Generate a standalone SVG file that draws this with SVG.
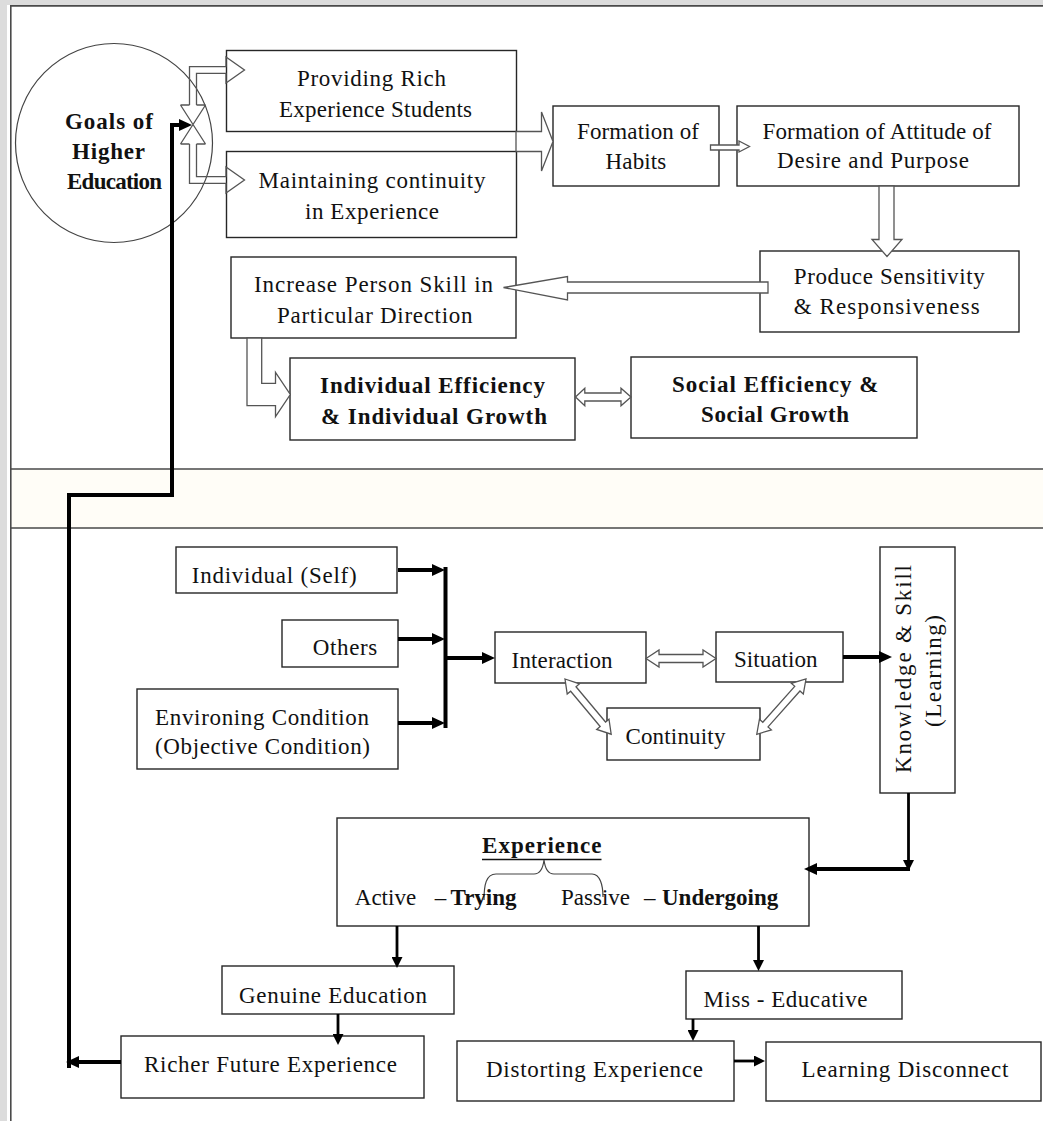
<svg xmlns="http://www.w3.org/2000/svg" width="1043" height="1121" viewBox="0 0 1043 1121">
<defs>
<style>
.box{fill:#fff;stroke:#262626;stroke-width:1.4}
.t{font-family:"Liberation Serif","Times New Roman",serif;font-size:23px;fill:#111}
.b{font-family:"Liberation Serif","Times New Roman",serif;font-size:23px;font-weight:bold;fill:#111}
.hol{fill:#fff;stroke:#555;stroke-width:1.3;stroke-linejoin:miter}
.holn{fill:none;stroke:#555;stroke-width:1.3}
.thk{fill:none;stroke:#000;stroke-width:4}
.thn{fill:none;stroke:#000;stroke-width:2.8}
.frame{fill:none;stroke:#4a4a4a}
</style>
<marker id="ah" markerUnits="userSpaceOnUse" markerWidth="13" markerHeight="12" viewBox="0 0 13 12" refX="1" refY="6" orient="auto"><path d="M0,0 L13,6 L0,12 Z" fill="#000"/></marker>
<marker id="as" markerUnits="userSpaceOnUse" markerWidth="11" markerHeight="11" viewBox="0 0 11 11" refX="1" refY="5.5" orient="auto"><path d="M0,0 L11,5.5 L0,11 Z" fill="#000"/></marker>
</defs>

<g id="background">
<rect x="0" y="0" width="1043" height="1121" fill="#fff"/>
<rect x="0" y="0" width="1043" height="5" fill="#dcdcdc"/>
<rect x="0" y="0" width="7" height="1121" fill="#dcdcdc"/>
<rect x="11" y="469" width="1032" height="59" fill="#fffdf7"/>
<path class="frame" d="M10,5.8 H1043" stroke-width="1.8"/>
<path class="frame" d="M10.8,5 V1121" stroke-width="1.6"/>
<path class="frame" d="M11,469 H1043 M11,528 H1043" stroke="#333" stroke-width="1.4"/>
</g>

<g id="n-goals">
<ellipse cx="114" cy="143" rx="98.5" ry="99.5" fill="none" stroke="#444" stroke-width="1.2"/>
<text class="b" x="65" y="129" textLength="88">Goals of</text>
<text class="b" x="72" y="159" textLength="73">Higher</text>
<text class="b" x="67" y="189" textLength="95">Education</text>
</g>
<g id="n-providing">
<rect class="box" x="226.5" y="50.5" width="290" height="81"/>
<text class="t" x="297" y="86" textLength="149">Providing Rich</text>
<text class="t" x="279" y="117" textLength="193">Experience Students</text>
</g>
<g id="n-maintaining">
<rect class="box" x="226.5" y="151.5" width="290" height="86"/>
<text class="t" x="258.5" y="188" textLength="227">Maintaining continuity</text>
<text class="t" x="305" y="219" textLength="134">in Experience</text>
</g>
<g id="n-habits">
<rect class="box" x="553" y="106" width="166" height="80"/>
<text class="t" x="577" y="139" textLength="122">Formation of</text>
<text class="t" x="605.6" y="169" textLength="60.6">Habits</text>
</g>
<g id="n-attitude">
<rect class="box" x="737" y="106" width="282" height="80"/>
<text class="t" x="762.5" y="139" textLength="229">Formation of Attitude of</text>
<text class="t" x="777" y="168" textLength="192">Desire and Purpose</text>
</g>
<g id="n-produce">
<rect class="box" x="760" y="251" width="259" height="81"/>
<text class="t" x="793.7" y="284" textLength="191">Produce Sensitivity</text>
<text class="t" x="793.7" y="314" textLength="186">&amp; Responsiveness</text>
</g>
<g id="n-increase">
<rect class="box" x="231" y="257" width="285" height="81"/>
<text class="t" x="254" y="292" textLength="239">Increase Person Skill in</text>
<text class="t" x="277" y="323" textLength="195.5">Particular Direction</text>
</g>
<g id="n-individual-eff">
<rect class="box" x="290" y="358" width="285" height="82"/>
<text class="b" x="320" y="393" textLength="225">Individual Efficiency</text>
<text class="b" x="321" y="424" textLength="226">&amp; Individual Growth</text>
</g>
<g id="n-social-eff">
<rect class="box" x="631" y="357" width="286" height="81"/>
<text class="b" x="672" y="392" textLength="206.5">Social Efficiency &amp;</text>
<text class="b" x="701" y="422" textLength="148">Social Growth</text>
</g>

<g id="n-self">
<rect class="box" x="176" y="547" width="221" height="46"/>
<text class="t" x="191.7" y="583" textLength="165">Individual (Self)</text>
</g>
<g id="n-others">
<rect class="box" x="282" y="620" width="116" height="47"/>
<text class="t" x="312.7" y="655" textLength="64.6">Others</text>
</g>
<g id="n-environing">
<rect class="box" x="137" y="689" width="261" height="80"/>
<text class="t" x="155" y="725" textLength="214">Environing Condition</text>
<text class="t" x="155" y="754" textLength="215">(Objective Condition)</text>
</g>
<g id="n-interaction">
<rect class="box" x="495" y="632" width="151" height="51"/>
<text class="t" x="511.6" y="668" textLength="101">Interaction</text>
</g>
<g id="n-situation">
<rect class="box" x="716" y="632" width="127" height="50"/>
<text class="t" x="734" y="667" textLength="83.5">Situation</text>
</g>
<g id="n-continuity">
<rect class="box" x="607" y="708" width="153" height="52"/>
<text class="t" x="625.4" y="744" textLength="100">Continuity</text>
</g>
<g id="n-knowledge">
<rect class="box" x="880" y="547" width="75" height="246"/>
<text class="t" x="911" y="773" transform="rotate(-90 911 773)" textLength="208">Knowledge &amp; Skill</text>
<text class="t" x="941" y="727" transform="rotate(-90 941 727)" textLength="112">(Learning)</text>
</g>
<g id="n-experience">
<rect class="box" x="337" y="818" width="472" height="108"/>
<text class="b" x="482" y="853" textLength="119.5">Experience</text>
<path d="M482,859.5 H601.5" stroke="#111" stroke-width="1.6"/>
<path d="M484,900 C484,885 486,874 496,874 L534,874 C540,874 543,868 544,860 C545,868 548,874 554,874 L592,874 C600,874 603,885 603,897" fill="none" stroke="#444" stroke-width="1.2"/>
<text class="t" y="905"><tspan x="354.8">Active</tspan><tspan x="434.7">–</tspan><tspan x="450.5" font-weight="bold">Trying</tspan></text>
<text class="t" y="905"><tspan x="561">Passive</tspan><tspan x="644">–</tspan><tspan x="662" font-weight="bold">Undergoing</tspan></text>
</g>
<g id="n-genuine">
<rect class="box" x="222" y="966" width="232" height="48"/>
<text class="t" x="239" y="1003" textLength="188">Genuine Education</text>
</g>
<g id="n-richer">
<rect class="box" x="121" y="1036" width="303" height="62"/>
<text class="t" x="144" y="1072" textLength="253">Richer Future Experience</text>
</g>
<g id="n-miss">
<rect class="box" x="686" y="971" width="216" height="48"/>
<text class="t" x="703.5" y="1007" textLength="164">Miss - Educative</text>
</g>
<g id="n-distorting">
<rect class="box" x="457" y="1041" width="277" height="60"/>
<text class="t" x="486" y="1077" textLength="217">Distorting Experience</text>
</g>
<g id="n-learning">
<rect class="box" x="766" y="1042" width="275" height="59"/>
<text class="t" x="801.5" y="1077" textLength="207">Learning Disconnect</text>
</g>

<g id="connectors">
<!-- hollow arrows, top -->
<path class="holn" d="M189.5,105 L189.5,66.7 L226,66.7 L226,57 L244.5,70 L226,83 L226,73.3 L196.5,73.3 L196.5,105"/>
<path class="holn" d="M189.5,144 L189.5,183.3 L226,183.3 L226,193 L244.5,180 L226,167 L226,176.7 L196.5,176.7 L196.5,144"/>
<path class="holn" d="M180.5,105 H189.5 M196.5,105 H205.5 M180.5,144 H189.5 M196.5,144 H205.5 M180.5,105 L205.5,144 M205.5,105 L180.5,144"/>
<path class="hol" d="M516,131.5 L541.5,131.5 L541.5,112 L553,141.5 L541.5,171 L541.5,151.5 L516,151.5 Z"/>
<path class="hol" d="M710.5,145 L739,145 L739,141 L749.5,146.5 L739,152 L739,150 L710.5,150 Z"/>
<path class="hol" d="M879,186 L879,239.5 L872,239.5 L887,256.5 L902,239.5 L894,239.5 L894,186 Z"/>
<path class="hol" d="M768,282 L567.5,282 L567.5,276.5 L503.5,287.5 L567.5,300 L567.5,293 L768,293 Z"/>
<path class="hol" d="M247,338 L247,405.7 L275.5,405.7 L275.5,416.7 L290.3,394.5 L275.5,372.3 L275.5,383.3 L261.7,383.3 L261.7,338 Z"/>
<path class="hol" d="M575.5,397 L584.8,388.3 L584.8,393 L621,393 L621,388.3 L631,397 L621,405.7 L621,401 L584.8,401 L584.8,405.7 Z"/>
<!-- hollow arrows, bottom -->
<path class="hol" transform="translate(646,658.5)" d="M0,0 L13,-8.5 L13,-4 L57,-4 L57,-8.5 L70,0 L57,8.5 L57,4 L13,4 L13,8.5 Z"/>
<path class="hol" transform="translate(565,679) rotate(50.1)" d="M0,0 L13,-8 L13,-3.5 L59,-3.5 L59,-8 L72,0 L59,8 L59,3.5 L13,3.5 L13,8 Z"/>
<path class="hol" transform="translate(806,679) rotate(131.7)" d="M0,0 L13,-8 L13,-3.5 L61,-3.5 L61,-8 L74,0 L61,8 L61,3.5 L13,3.5 L13,8 Z"/>
<!-- black arrows -->
<path class="thk" d="M398,570 H433" marker-end="url(#ah)"/>
<path class="thk" d="M398,639 H433" marker-end="url(#ah)"/>
<path class="thk" d="M398,723 H433" marker-end="url(#ah)"/>
<path class="thk" d="M445.5,567 V728" stroke-width="4.5"/>
<path class="thk" d="M445.5,658 H483" marker-end="url(#ah)"/>
<path class="thk" d="M843,657 H880" marker-end="url(#ah)"/>
<path class="thn" d="M908.5,793 V861" marker-end="url(#as)"/>
<path class="thk" d="M910,869 H816" marker-end="url(#ah)"/>
<path class="thn" d="M397,926 V958" marker-end="url(#as)"/>
<path class="thn" d="M758.5,926 V961" marker-end="url(#as)"/>
<path class="thn" d="M338,1014 V1035" marker-end="url(#as)"/>
<path class="thn" d="M693,1019 V1031" marker-end="url(#as)"/>
<path class="thn" d="M734,1061 H755" marker-end="url(#as)"/>
<path class="thk" d="M121,1062 H78" marker-end="url(#ah)"/>
<path class="thk" d="M69,1068 V495 H172 V125 H180" stroke-linejoin="miter" marker-end="url(#ah)"/>
</g>
</svg>
